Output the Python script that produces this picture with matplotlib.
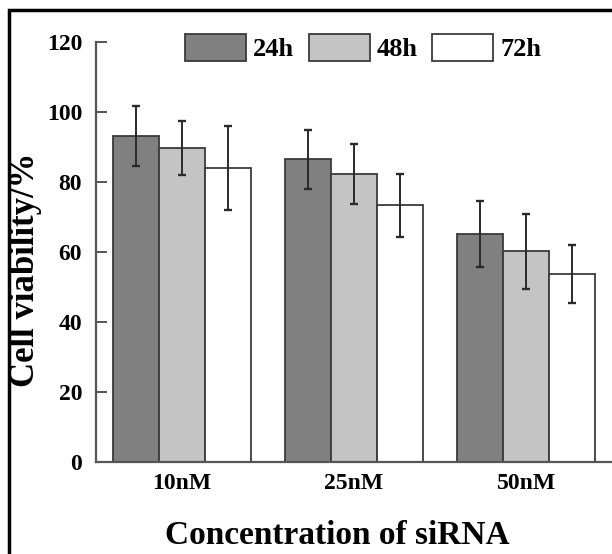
import matplotlib
matplotlib.use("Agg")
import matplotlib.pyplot as plt
from matplotlib.patches import Rectangle
import numpy as np

categories = ["10nM", "25nM", "50nM"]
series_names = ["24h", "48h", "72h"]
vals_24h = [93.2, 86.5, 65.2]
vals_48h = [89.7, 82.3, 60.2]
vals_72h = [84.0, 73.3, 53.6]
err_24h = [8.5, 8.4, 9.5]
err_48h = [7.6, 8.7, 10.8]
err_72h = [11.9, 8.9, 8.3]
colors = ["#808080", "#c4c4c4", "#ffffff"]
yticks = [0, 20, 40, 60, 80, 100, 120]

plt.rcParams['font.family'] = ['Liberation Serif', 'DejaVu Serif']
plt.rcParams['font.weight'] = 'bold'

W, H = 612, 554
fig = plt.figure(figsize=(W / 100, H / 100), dpi=100)
fig.patch.set_facecolor("white")

# outer frame
fig.patches.append(Rectangle((8.5 / W, -0.1), 1.2, 1 - 10 / H + 0.1,
                             transform=fig.transFigure, fill=False,
                             edgecolor="black", linewidth=2.5, zorder=10))

ax = fig.add_axes([96 / W, 1 - 462 / H, (612 - 96) / W, 420 / H])
x = np.arange(1, len(categories) + 1)
bw = 0.267
allv = [vals_24h, vals_48h, vals_72h]
alle = [err_24h, err_48h, err_72h]
for i, (v, e, c, n) in enumerate(zip(allv, alle, colors, series_names)):
    ax.bar(x + (i - 1) * bw, v, width=bw, color=c, edgecolor="#3a3a3a",
           linewidth=1.3, label=n, zorder=2)
    ax.errorbar(x + (i - 1) * bw, v, yerr=e, fmt="none", ecolor="#2a2a2a",
                elinewidth=1.4, capsize=3, capthick=1.7, zorder=3)

ax.set_xlim(0.5, 3.5)
ax.set_ylim(0, 120)
ax.set_yticks(yticks)
ax.set_xticks(x)
ax.set_xticklabels(categories)
for s in ["top", "right"]:
    ax.spines[s].set_visible(False)
for s in ["left", "bottom"]:
    ax.spines[s].set_color("#555555")
    ax.spines[s].set_linewidth(1.6)
ax.tick_params(axis="y", direction="in", length=8, width=1.4, color="#555555",
               labelsize=17, pad=10)
ax.tick_params(axis="x", direction="in", length=5, width=1.2, color="#555555",
               labelsize=17, pad=8)
for lab in ax.get_xticklabels() + ax.get_yticklabels():
    lab.set_fontweight("bold")

fig.text(26 / W, 1 - 270 / H, "Cell viability/%", rotation=90, fontsize=25,
         fontweight="bold", ha="center", va="center")
fig.text(337 / W, 1 - 535 / H, "Concentration of siRNA", fontsize=24,
         fontweight="bold", ha="center", va="center")

leg = ax.legend(loc="upper left", bbox_to_anchor=(185 / W, 1 - 34 / H),
                bbox_transform=fig.transFigure, ncol=3, frameon=False,
                borderpad=0, borderaxespad=0, handlelength=2.31,
                handleheight=1.17, handletextpad=0.27, columnspacing=0.55,
                prop={"size": 19, "weight": "bold"})
for p in leg.get_patches():
    p.set_edgecolor("#3a3a3a")

fig.savefig("out.png", dpi=100)
